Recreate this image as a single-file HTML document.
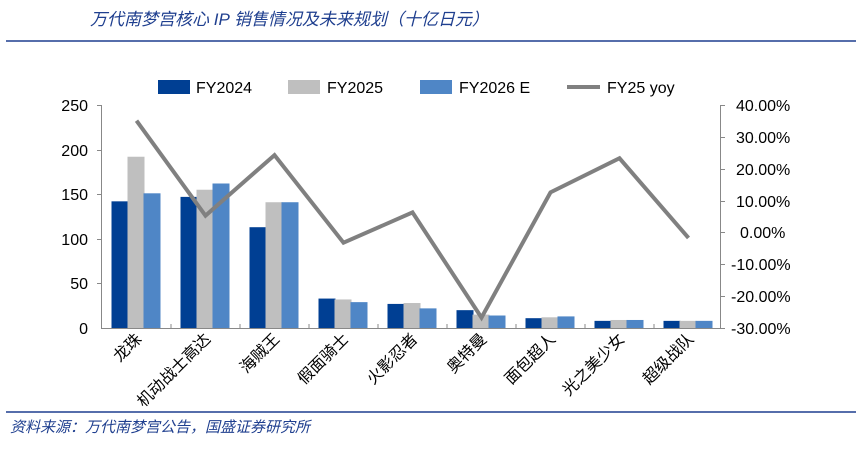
<!DOCTYPE html>
<html><head><meta charset="utf-8"><style>
body{margin:0;background:#fff;width:866px;height:449px;overflow:hidden}
svg{display:block}
text{font-family:"Liberation Sans","Noto Sans CJK SC",sans-serif}
</style></head><body>
<svg width="866" height="449" viewBox="0 0 866 449">
<text x="90" y="25" font-size="17" font-style="italic" fill="#1f3f8f" font-family="Liberation Serif,Noto Serif CJK SC,serif">万代南梦宫核心 IP 销售情况及未来规划（十亿日元）</text>
<line x1="6" y1="41" x2="856" y2="41" stroke="#1f3f8f" stroke-width="1.5"/>
<line x1="6" y1="412" x2="856" y2="412" stroke="#1f3f8f" stroke-width="1.5"/>
<text x="10" y="432" font-size="15" font-style="italic" fill="#1f3f8f" font-family="Liberation Serif,Noto Serif CJK SC,serif">资料来源：万代南梦宫公告，国盛证券研究所</text>
<!-- legend -->
<rect x="158" y="80" width="32" height="14" fill="#003f93"/><text x="196" y="93" font-size="16">FY2024</text>
<rect x="288" y="80" width="32" height="14" fill="#bfbfbf"/><text x="327" y="93" font-size="16">FY2025</text>
<rect x="420" y="80" width="32" height="14" fill="#4f86c6"/><text x="459" y="93" font-size="16">FY2026 E</text>
<line x1="567" y1="87" x2="600" y2="87" stroke="#808080" stroke-width="4"/><text x="607" y="93" font-size="16">FY25 yoy</text>
<!-- axes -->
<g stroke="#888" stroke-width="1">
<line x1="101.5" y1="105" x2="101.5" y2="329"/>
<line x1="101" y1="328.5" x2="721" y2="328.5"/>
<line x1="720.5" y1="105" x2="720.5" y2="329"/>
<line x1="97" y1="105.5" x2="101" y2="105.5"/><line x1="97" y1="150.5" x2="101" y2="150.5"/><line x1="97" y1="194.5" x2="101" y2="194.5"/><line x1="97" y1="239.5" x2="101" y2="239.5"/><line x1="97" y1="283.5" x2="101" y2="283.5"/>
<line x1="171" y1="328" x2="171" y2="324"/><line x1="240" y1="328" x2="240" y2="324"/><line x1="309" y1="328" x2="309" y2="324"/><line x1="378" y1="328" x2="378" y2="324"/><line x1="447" y1="328" x2="447" y2="324"/><line x1="516" y1="328" x2="516" y2="324"/><line x1="585" y1="328" x2="585" y2="324"/><line x1="654" y1="328" x2="654" y2="324"/>
<line x1="720" y1="105.5" x2="725" y2="105.5"/><line x1="720" y1="137.5" x2="725" y2="137.5"/><line x1="720" y1="169.5" x2="725" y2="169.5"/><line x1="720" y1="201.5" x2="725" y2="201.5"/><line x1="720" y1="232.5" x2="725" y2="232.5"/><line x1="720" y1="264.5" x2="725" y2="264.5"/><line x1="720" y1="296.5" x2="725" y2="296.5"/><line x1="720" y1="328.5" x2="725" y2="328.5"/>
</g>
<g font-size="16" text-anchor="end">
<text x="88" y="111">250</text><text x="88" y="156">200</text><text x="88" y="200">150</text><text x="88" y="245">100</text><text x="88" y="289">50</text><text x="88" y="334">0</text>
</g>
<g font-size="16">
<text x="736" y="111">40.00%</text><text x="736" y="143">30.00%</text><text x="736" y="175">20.00%</text><text x="736" y="207">10.00%</text><text x="740" y="238">0.00%</text><text x="731" y="270">-10.00%</text><text x="731" y="302">-20.00%</text><text x="731" y="334">-30.00%</text>
</g>
<g id="bars"></g>
<polyline id="ln" fill="none" stroke="#808080" stroke-width="4" stroke-linejoin="miter"/>
<g id="lab" font-size="16" text-anchor="end"></g>
</svg>
<script>
var a=[142,147,113,33,27,20,11,8,8],b=[192,155,141,32,28,15,12,9,8],c=[151,162,141,29,22,14,13,9,8];
var y=[35.3,5.5,24.5,-3,6.5,-26.5,12.8,23.5,-1.5];
var n=["龙珠","机动战士高达","海贼王","假面骑士","火影忍者","奥特曼","面包超人","光之美少女","超级战队"];
var s="",p=[],l="";
for(var i=0;i<9;i++){var cx=136.5+69*i;
[[a,"#003f93",-25],[b,"#bfbfbf",-9],[c,"#4f86c6",7]].forEach(function(d){var h=d[0][i]*0.892;s+='<rect x="'+(cx+d[2])+'" y="'+(328-h)+'" width="17" height="'+h+'" fill="'+d[1]+'"/>';});
p.push(cx+","+(105.7+(40-y[i])*3.186));
l+='<text transform="translate('+(cx+6)+',340) rotate(-45)">'+n[i]+'</text>';}
document.getElementById("bars").innerHTML=s;
document.getElementById("ln").setAttribute("points",p.join(" "));
document.getElementById("lab").innerHTML=l;
</script>
</body></html>
